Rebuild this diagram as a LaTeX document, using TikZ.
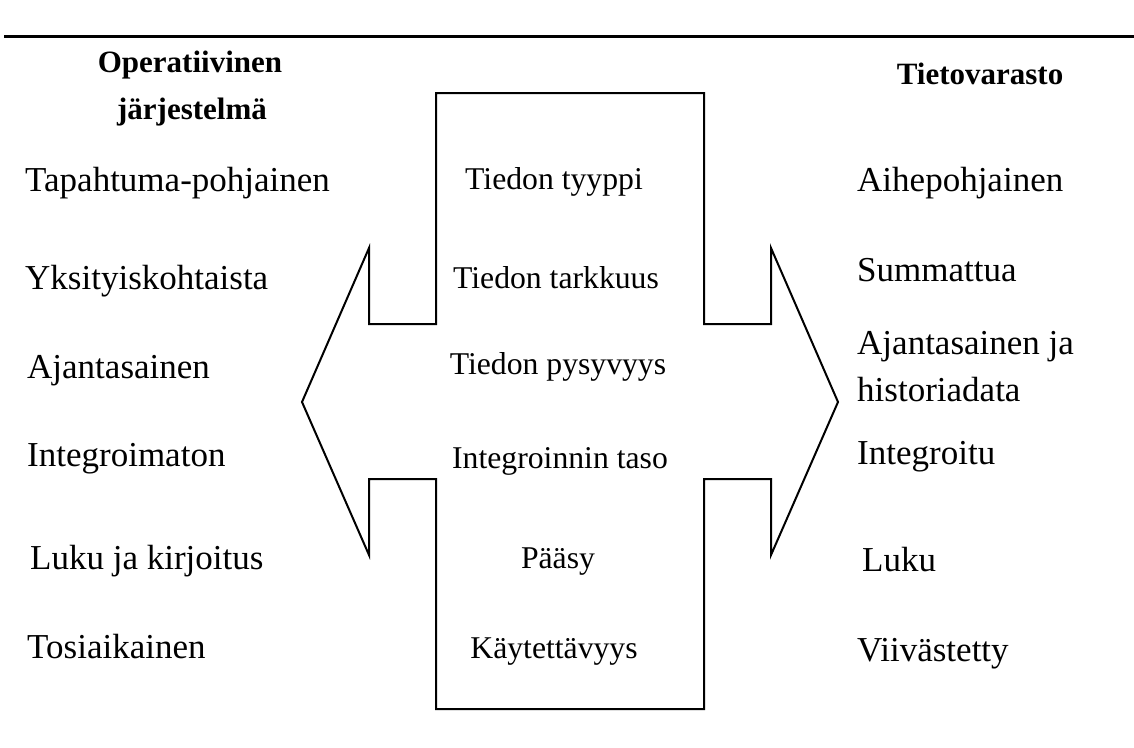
\documentclass[tikz,border=0pt]{standalone}
\usepackage{fontspec}
\setmainfont{Liberation Serif}
\begin{document}
\begin{tikzpicture}[x=1pt,y=-1pt,
  side/.style={anchor=base west,inner sep=0pt,font=\fontsize{35}{40}\selectfont},
  mid/.style={anchor=base,inner sep=0pt,font=\fontsize{31.7}{38}\selectfont},
  head/.style={anchor=base,inner sep=0pt,font=\fontsize{31}{38}\selectfont\bfseries},
  outline/.style={draw=black,line width=2pt,line join=miter}]
\useasboundingbox (0,0) rectangle (1134,747);

% rule across the top
\draw[line width=3pt] (4,36) -- (1134,36);

% double-headed cross arrow
\draw[outline] (436,93) -- (704,93) -- (704,324) -- (771,324) -- (771,248)
  -- (838,402) -- (771,555) -- (771,479) -- (704,479) -- (704,709)
  -- (436,709) -- (436,479) -- (369,479) -- (369,555) -- (302,402)
  -- (369,248) -- (369,324) -- (436,324) -- cycle;

% column headings
\node[head] (hl1) at (190,72) {Operatiivinen};
\node[head] (hl2) at (192,119) {järjestelmä};
\node[head] (hr)  at (980,84) {Tietovarasto};

% operational system properties
\node[side] (l1) at (25,191) {Tapahtuma-pohjainen};
\node[side] (l2) at (25,289) {Yksityiskohtaista};
\node[side] (l3) at (27,378) {Ajantasainen};
\node[side] (l4) at (27,466) {Integroimaton};
\node[side] (l5) at (30,569) {Luku ja kirjoitus};
\node[side] (l6) at (27,658) {Tosiaikainen};

% comparison criteria
\node[mid] (m1) at (554,189) {Tiedon tyyppi};
\node[mid] (m2) at (556,288) {Tiedon tarkkuus};
\node[mid] (m3) at (558,374) {Tiedon pysyvyys};
\node[mid] (m4) at (560,468) {Integroinnin taso};
\node[mid] (m5) at (558,568) {Pääsy};
\node[mid] (m6) at (554,658) {Käytettävyys};

% data warehouse properties
\node[side] (r1) at (857,191) {Aihepohjainen};
\node[side] (r2) at (857,281) {Summattua};
\node[side] (r3) at (857,354) {Ajantasainen ja};
\node[side] (r4) at (857,401) {historiadata};
\node[side] (r5) at (857,464) {Integroitu};
\node[side] (r6) at (862,571) {Luku};
\node[side] (r7) at (857,661) {Viivästetty};
\end{tikzpicture}
\end{document}
